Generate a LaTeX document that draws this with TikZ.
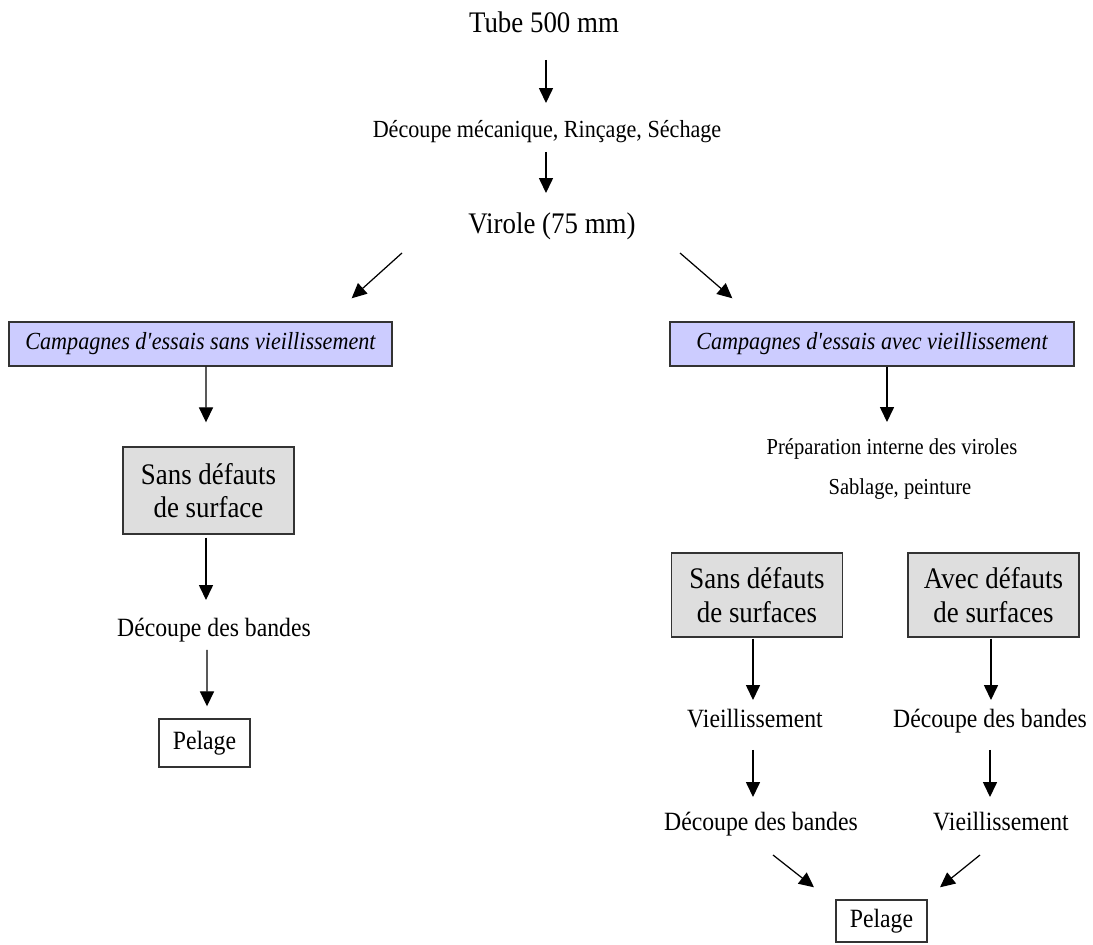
\documentclass[tikz,border=0pt]{standalone}
\usepackage{fontspec}
\setmainfont{Liberation Serif}[FakeStretch=0.9]
\usetikzlibrary{arrows.meta}

\begin{document}
\begin{tikzpicture}[x=0.02cm,y=-0.02cm,
    fleche/.style={-{Triangle[length=8.5pt,width=8pt]},line width=0.7pt},
    texte/.style={anchor=base,inner sep=0pt},
    campagne/.style={draw=black!80,line width=0.8pt,fill=blue!20,inner sep=0pt,
      minimum height=0.88cm,font=\fontsize{14}{16}\selectfont\itshape},
    defaut/.style={draw=black!80,line width=0.8pt,fill=black!13,inner sep=0pt,
      align=center,minimum width=3.42cm,font=\fontsize{17}{19}\selectfont},
    pelage/.style={draw=black!80,line width=0.8pt,inner sep=0pt,
      minimum width=1.82cm,font=\fontsize{15}{17}\selectfont}]
  \useasboundingbox (0,0) rectangle (1093,945);

  % tronc commun
  \node[texte,font=\fontsize{17}{19}\selectfont] (tube) at (544,33) {Tube 500 mm};
  \node[texte,font=\fontsize{14}{16}\selectfont] (decmeca) at (547,138) {Découpe mécanique, Rinçage, Séchage};
  \node[texte,font=\fontsize{17}{19}\selectfont] (virole) at (552,234) {Virole (75 mm)};

  % sans vieillissement
  \node[campagne,minimum width=7.66cm] (camp1) at (200.5,344) {Campagnes d\textquotesingle essais sans vieillissement};
  \node[defaut,minimum height=1.74cm] (sans1) at (208.5,490.5) {Sans défauts\\de surface};
  \node[texte,font=\fontsize{15}{17}\selectfont] (decb1) at (214,637) {Découpe des bandes};
  \node[pelage,minimum height=0.96cm] (pel1) at (204.5,743) {Pelage};

  % avec vieillissement
  \node[campagne,minimum width=8.08cm] (camp2) at (872,344) {Campagnes d\textquotesingle essais avec vieillissement};
  \node[texte,font=\fontsize{13}{15}\selectfont] (prep) at (892,455) {Préparation interne des viroles};
  \node[texte,font=\fontsize{13}{15}\selectfont] (sabl) at (900,495) {Sablage, peinture};
  \node[defaut,minimum height=1.68cm] (sans2) at (757,595) {Sans défauts\\de surfaces};
  \node[defaut,minimum height=1.68cm] (avec2) at (993.5,595) {Avec défauts\\de surfaces};
  \node[texte,font=\fontsize{15}{17}\selectfont] (vieil1) at (755,728) {Vieillissement};
  \node[texte,font=\fontsize{15}{17}\selectfont] (decb2) at (990,728) {Découpe des bandes};
  \node[texte,font=\fontsize{15}{17}\selectfont] (decb3) at (761,831) {Découpe des bandes};
  \node[texte,font=\fontsize{15}{17}\selectfont] (vieil2) at (1001,831) {Vieillissement};
  \node[pelage,minimum height=0.84cm] (pel2) at (881.5,921) {Pelage};

  % fleches
  \draw[fleche] ([shift={(2,27)}]tube.base) -- ([shift={(-1,-35)}]decmeca.base);
  \draw[fleche] ([shift={(-1,14)}]decmeca.base) -- ([shift={(-6,-41)}]virole.base);
  \draw[fleche] ([shift={(-150,19)}]virole.base) -- ([shift={(-41,-23)}]camp1.north east);
  \draw[fleche] ([shift={(128,19)}]virole.base) -- ([shift={(63,-23)}]camp2.north west);

  \draw[fleche] ([shift={(5.5,0)}]camp1.south) -- ([shift={(-2.5,-24)}]sans1.north);
  \draw[fleche] ([shift={(-2.5,3)}]sans1.south) -- ([shift={(-8,-37)}]decb1.base);
  \draw[fleche] ([shift={(-7,13)}]decb1.base) -- ([shift={(2.5,-12)}]pel1.north);

  \draw[fleche] ([shift={(15,0)}]camp2.south) -- ([shift={(-5,-33)}]prep.base);
  \draw[fleche] ([shift={(-4,1)}]sans2.south) -- ([shift={(-2,-28)}]vieil1.base);
  \draw[fleche] ([shift={(-2.5,1)}]avec2.south) -- ([shift={(1,-28)}]decb2.base);
  \draw[fleche] ([shift={(-2,22)}]vieil1.base) -- ([shift={(-8,-34)}]decb3.base);
  \draw[fleche] ([shift={(0,22)}]decb2.base) -- ([shift={(-11,-34)}]vieil2.base);
  \draw[fleche] ([shift={(12,24)}]decb3.base) -- ([shift={(-67.5,-12)}]pel2.north);
  \draw[fleche] ([shift={(-21,24)}]vieil2.base) -- ([shift={(58.5,-12)}]pel2.north);
\end{tikzpicture}
\end{document}
